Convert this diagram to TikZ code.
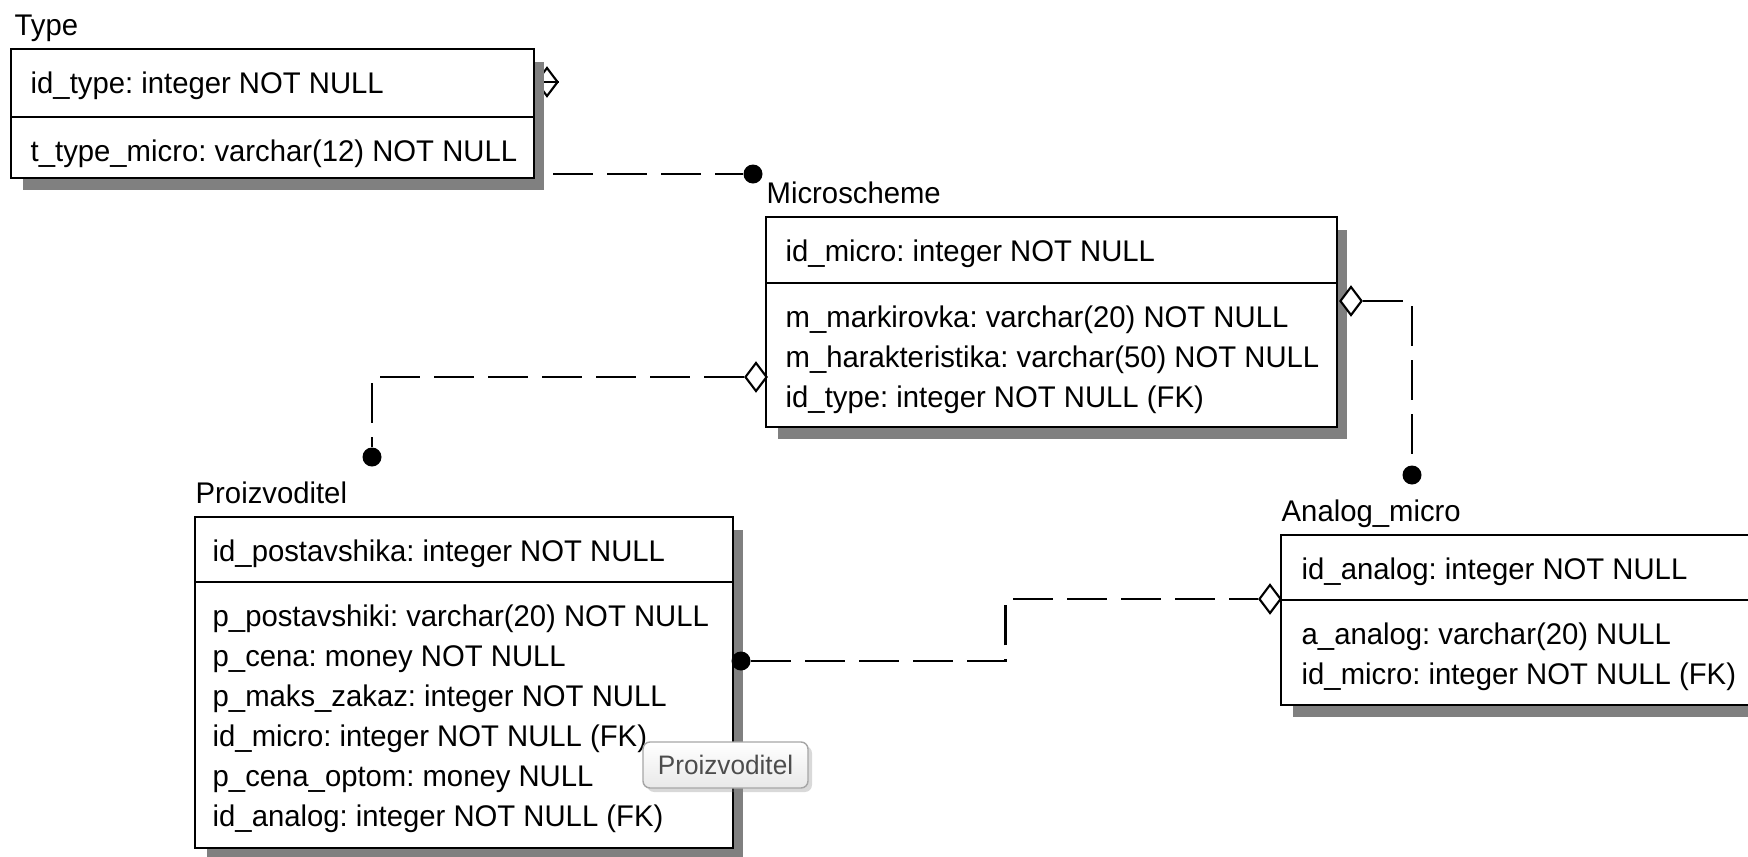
\documentclass[tikz,border=0pt]{standalone}
\usepackage{fontspec}
\setmainfont{Liberation Sans}[FakeStretch=0.98]
\usetikzlibrary{positioning,shapes.geometric,calc,backgrounds,shadows}
\newcommand{\fld}{\fontsize{8.5pt}{11.38pt}\selectfont}
\frenchspacing

\begin{document}
\begin{tikzpicture}[
  tb/.style={rectangle,draw,line width=0.7pt,fill=white,inner sep=0pt,outer sep=0pt,anchor=north west},
  fl/.style={font=\fld,inner sep=0pt,align=left},
  tt/.style={font=\fld,anchor=base west,inner sep=0pt},
  sh/.style={fill=black!50},
  rel/.style={line width=0.6pt,dash pattern=on 0.4cm off 0.14cm},
  dot/.style={circle,fill,inner sep=0pt,minimum size=0.19cm},
  dm/.style={diamond,draw,fill=white,line width=0.6pt,inner sep=0pt,minimum width=0.22cm,minimum height=0.29cm},
  tip/.style={rounded corners=2pt,draw=black!35,top color=white,bottom color=black!9,
    text=black!70,font=\fontsize{7.6pt}{9pt}\selectfont,minimum width=1.65cm,minimum height=0.46cm,
    drop shadow={opacity=0.3,shadow xshift=0.04cm,shadow yshift=-0.04cm}}]
  \useasboundingbox (0,0) rectangle (17.48,-8.57);
  \clip (0,0) rectangle (17.48,-8.57);
  % Type
  \node[tb,minimum width=5.23cm,minimum height=0.68cm] (typeK) at (0.11,-0.49) {};
  \node[tb,minimum width=5.23cm,minimum height=0.61cm] (typeA) at (typeK.south west) {};
  \node[tt] (typeT) at ($(typeK.north west)+(0.03,0.14)$) {Type};
  \node[fl,below right=0.225cm and 0.19cm of typeK.north west] (typeKt) {id\_type: integer NOT NULL};
  \node[fl,below right=0.225cm and 0.19cm of typeA.north west] (typeAt) {t\_type\_micro: varchar(12) NOT NULL};
  % Microscheme
  \node[tb,minimum width=5.71cm,minimum height=0.66cm] (microK) at (7.66,-2.17) {};
  \node[tb,minimum width=5.71cm,minimum height=1.44cm] (microA) at (microK.south west) {};
  \node[tt] (microT) at ($(microK.north west)+(0,0.14)$) {Microscheme};
  \node[fl,below right=0.225cm and 0.19cm of microK.north west] (microKt) {id\_micro: integer NOT NULL};
  \node[fl,below right=0.225cm and 0.19cm of microA.north west] (microAt)
    {m\_markirovka: varchar(20) NOT NULL\\
     m\_harakteristika: varchar(50) NOT NULL\\
     id\_type: integer NOT NULL (FK)};
  % Proizvoditel
  \node[tb,minimum width=5.38cm,minimum height=0.65cm] (prodK) at (1.95,-5.17) {};
  \node[tb,minimum width=5.38cm,minimum height=2.66cm] (prodA) at (prodK.south west) {};
  \node[tt] (prodT) at ($(prodK.north west)+(0,0.14)$) {Proizvoditel};
  \node[fl,below right=0.225cm and 0.17cm of prodK.north west] (prodKt) {id\_postavshika: integer NOT NULL};
  \node[fl,below right=0.225cm and 0.17cm of prodA.north west] (prodAt)
    {p\_postavshiki: varchar(20) NOT NULL\\
     p\_cena: money NOT NULL\\
     p\_maks\_zakaz: integer NOT NULL\\
     id\_micro: integer NOT NULL (FK)\\
     p\_cena\_optom: money NULL\\
     id\_analog: integer NOT NULL (FK)};
  % Analog_micro
  \node[tb,minimum width=5.1cm,minimum height=0.65cm] (anaK) at (12.81,-5.35) {};
  \node[tb,minimum width=5.1cm,minimum height=1.05cm] (anaA) at (anaK.south west) {};
  \node[tt] (anaT) at ($(anaK.north west)+(0,0.14)$) {Analog\_micro};
  \node[fl,below right=0.225cm and 0.2cm of anaK.north west] (anaKt) {id\_analog: integer NOT NULL};
  \node[fl,below right=0.225cm and 0.2cm of anaA.north west] (anaAt)
    {a\_analog: varchar(20) NULL\\
     id\_micro: integer NOT NULL (FK)};
  % shadows
  \begin{scope}[on background layer]
    \node[dm] (dm0) at (5.47,-0.82) {};
    \draw[line width=0.6pt] (dm0.west) -- (dm0.east);
    \foreach \e in {type,micro,prod,ana}
      \fill[sh] ($(\e K.north west)+(0.12,-0.13)$) rectangle ($(\e A.south east)+(0.1,-0.12)$);
  \end{scope}
  % relationships
  \node[dot] (d1) at (7.53,-1.74) {};
  \node[dot] (d2) at (3.72,-4.57) {};
  \node[dot] (d3) at (14.12,-4.75) {};
  \node[dot] (d4) at (7.41,-6.61) {};
  \node[dm] (dm1) at (7.56,-3.77) {};
  \node[dm] (dm2) at (13.51,-3.01) {};
  \node[dm] (dm3) at (12.70,-5.99) {};
  \draw[rel,shorten <=0.19cm] (typeA.east |- d1) -- (d1);
  \draw[rel] (dm1) -| (d2);
  \draw[rel] (dm2) -| (d3);
  \draw[rel] (d4) -| ($(d4)!.5!(dm3)$) |- (dm3);
  % tooltip
  \node[tip] (tipP) at (7.255,-7.65) {Proizvoditel};
\end{tikzpicture}
\end{document}
